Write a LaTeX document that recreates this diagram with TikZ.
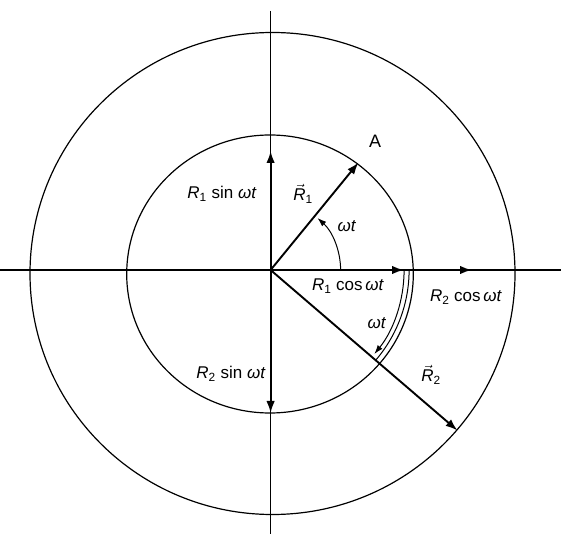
\documentclass[tikz,border=0pt]{standalone}
\usepackage{fontspec}
\setmainfont{Liberation Sans}
\usetikzlibrary{arrows.meta}
\newcommand\myvecR[1]{$\vec{\mbox{\textit{R}}}$\textsubscript{#1}}
\begin{document}
\begin{tikzpicture}[x=1pt,y=-1pt,
  axis/.style={line width=1.1pt},
  ring/.style={line width=1.2pt},
  vecarrow/.style={line width=1.9pt,-{Latex[length=12pt,width=8.5pt]}},
  anglearc/.style={line width=1pt},
  arctip/.style={-{Latex[length=9pt,width=6pt]}},
  lbl/.style={font=\fontsize{17}{20}\selectfont, inner sep=0pt}
]
\useasboundingbox (0,0) rectangle (576,553);
% key points
\coordinate (O) at (270.6,270);
\coordinate (L) at (0,270);
\coordinate (Rt) at (561,270);
\coordinate (T) at (270.6,11);
\coordinate (B) at (270.6,534);
\coordinate (r1s) at (270.6,151);
\coordinate (r2s) at (270.6,413);
\coordinate (r1c) at (404,270);
\coordinate (r2c) at (472,270);
\coordinate (r1v) at (358.5,162.5);
\coordinate (r2v) at (457.5,430.5);
\coordinate (Cin) at (270,274);
\coordinate (Cout) at (272.5,273.5);
% circles
\draw[ring] (Cout) ellipse [x radius=242.5pt, y radius=241pt];
\draw[ring] (Cin) ellipse [x radius=143.3pt, y radius=139pt];
% axes
\draw[axis] (L) -- (Rt);
\draw[axis] (T) -- (B);
% vectors
\draw[vecarrow] (O) -- (r1s);
\draw[vecarrow] (O) -- (r2s);
\draw[vecarrow] (O) -- (r2c);
\draw[vecarrow] (O) -- (r1c);
\draw[vecarrow] (O) -- (r1v);
\draw[vecarrow] (O) -- (r2v);
% angle arcs
\draw[anglearc,arctip] (O) ++(70pt,0pt) arc[start angle=0, end angle=48, radius=70pt];
\draw[anglearc,arctip] (O) ++(133.5pt,0pt) arc[start angle=0, end angle=-39, radius=133.5pt];
\draw[anglearc] (O) ++(138.5pt,0pt) arc[start angle=0, end angle=-40.5, radius=138.5pt];
% labels
\node[lbl,font=\fontsize{18}{20}\selectfont] (lA) at (375,141) {A};
\node[lbl] (lR1v) at (303,194) {\myvecR{1}};
\node[lbl] (lw1) at (347,226) {\textit{ωt}};
\node[lbl] (lR1s) at (222,194) {\textit{R}\textsubscript{1} sin \textit{ωt}};
\node[lbl] (lR1c) at (348,286) {\textit{R}\textsubscript{1} cos\,\textit{ωt}};
\node[lbl] (lR2c) at (466,297) {\textit{R}\textsubscript{2} cos\,\textit{ωt}};
\node[lbl] (lw2) at (377,323) {\textit{ωt}};
\node[lbl] (lR2v) at (431,375) {\myvecR{2}};
\node[lbl] (lR2s) at (231,374) {\textit{R}\textsubscript{2} sin \textit{ωt}};
\end{tikzpicture}
\end{document}
